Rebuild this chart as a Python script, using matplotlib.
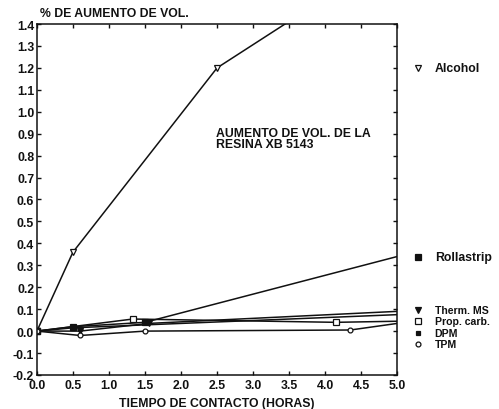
import matplotlib
matplotlib.use("Agg")
import matplotlib.pyplot as plt

# data (hours, % volume increase)
alcohol_x = [0.0, 0.5, 2.5, 5.0]
alcohol_y = [0.0, 0.36, 1.20, 1.73]
rolla_x = [0.0, 0.5, 1.5, 5.0]
rolla_y = [0.0, 0.02, 0.04, 0.34]
therm_x = [0.0, 0.6, 1.55, 5.0]
therm_y = [0.0, 0.0, 0.035, 0.09]
prop_x = [0.0, 1.33, 4.15, 5.0]
prop_y = [0.0, 0.055, 0.04, 0.045]
dpm_x = [0.0, 0.5, 5.0]
dpm_y = [0.0, 0.015, 0.075]
tpm_x = [0.0, 0.6, 1.5, 4.35, 5.0]
tpm_y = [0.0, -0.02, 0.0, 0.005, 0.035]

labels = ["Alcohol", "Rollastrip", "Therm. MS", "Prop. carb.", "DPM", "TPM"]
label_y = [1.20, 0.34, 0.097, 0.045, -0.007, -0.059]
label_size = [8.8, 8.8, 7.6, 7.6, 7.6, 7.6]

xticks = [0.0, 0.5, 1.0, 1.5, 2.0, 2.5, 3.0, 3.5, 4.0, 4.5, 5.0]
yticks = [-0.2, -0.1, 0.0, 0.1, 0.2, 0.3, 0.4, 0.5, 0.6, 0.7, 0.8, 0.9,
          1.0, 1.1, 1.2, 1.3, 1.4]

INK = "#111111"
FS = 8.8
plt.rcParams["font.family"] = ["Liberation Sans", "DejaVu Sans"]
plt.rcParams["font.weight"] = "bold"

fig = plt.figure(figsize=(4.99, 4.10), dpi=100)
ax = fig.add_axes([0.074, 0.083, 0.722, 0.856])

styles = [
    dict(marker="v", mfc="white", ms=5),
    dict(marker="s", mfc=INK, ms=5),
    dict(marker="v", mfc=INK, ms=4),
    dict(marker="s", mfc="white", ms=5),
    dict(marker="s", mfc=INK, ms=3),
    dict(marker="o", mfc="white", ms=3.5),
]
series = [(alcohol_x, alcohol_y), (rolla_x, rolla_y), (therm_x, therm_y),
          (prop_x, prop_y), (dpm_x, dpm_y), (tpm_x, tpm_y)]

for (xs, ys), st in zip(series, styles):
    # the scanned chart shows no marker at the 5 h end of each curve
    ax.plot(xs, ys, color=INK, lw=1.1, mec=INK, mew=0.9,
            markevery=list(range(len(xs) - 1)), **st)

# labels to the right of the frame, each with its marker
for lab, ly, fs, st in zip(labels, label_y, label_size, styles):
    ax.plot([5.29], [ly], color=INK, ls="none", mec=INK, mew=0.9,
            clip_on=False, **st)
    ax.text(5.52, ly, lab, fontsize=fs, fontweight="bold", color=INK,
            va="center", ha="left")

ax.text(2.49, 0.93, "AUMENTO DE VOL. DE LA\nRESINA XB 5143", fontsize=FS,
        fontweight="bold", color=INK, va="top", ha="left", linespacing=0.9)

ax.set_xlim(0, 5)
ax.set_ylim(-0.2, 1.4)
ax.set_xticks(xticks)
ax.set_yticks(yticks)
ax.set_xticklabels([f"{v:.1f}" for v in xticks])
ax.set_yticklabels([f"{v:.1f}" for v in yticks])
ax.tick_params(direction="in", top=True, right=True, length=3, width=1,
               labelsize=FS, colors=INK)
ax.tick_params(axis="x", pad=3)
ax.tick_params(axis="y", pad=2)
for lab in ax.get_xticklabels() + ax.get_yticklabels():
    lab.set_fontweight("bold")
for sp in ax.spines.values():
    sp.set_linewidth(1.1)
    sp.set_color(INK)

ax.set_xlabel("TIEMPO DE CONTACTO (HORAS)", fontsize=FS, fontweight="bold",
              color=INK, labelpad=4)
fig.text(0.08, 0.967, "% DE AUMENTO DE VOL.", fontsize=FS, fontweight="bold",
         color=INK, ha="left", va="center")

fig.savefig("out.png", dpi=100, facecolor="white")
